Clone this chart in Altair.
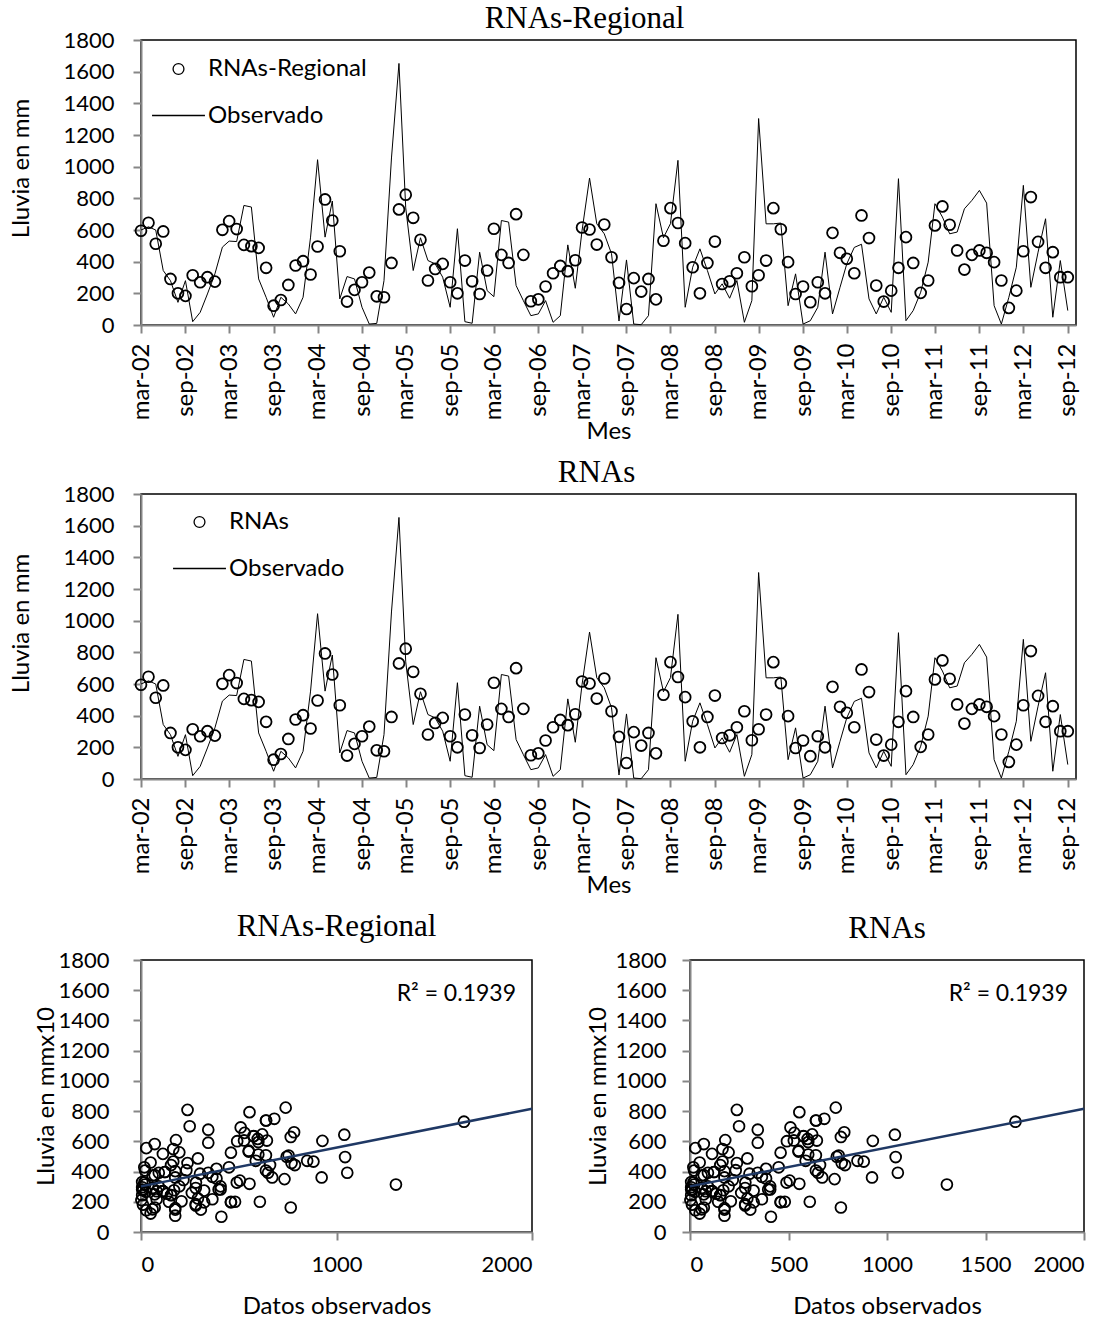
import altair as alt
import pandas as pd

# ---------------- data ----------------
meses = pd.date_range("2002-03-01", periods=127, freq="MS")

observado = [
    600, 620, 600, 344, 280, 143, 280, 21, 80, 196,
    323, 492, 530, 527, 755, 745, 291, 175, 49, 175,
    133, 70, 175, 555, 1044, 555, 783, 165, 306, 291,
    112, 6, 10, 280, 1055, 1652, 740, 344, 551, 407,
    386, 302, 112, 608, 21, 11, 460, 217, 179, 660,
    650, 249, 154, 59, 70, 154, 17, 59, 506, 232,
    597, 928, 639, 576, 450, 25, 411, 6, 2, 59,
    766, 551, 640, 1040, 112, 365, 481, 344, 196, 260,
    169, 281, 17, 154, 1304, 639, 639, 644, 122, 323,
    6, 27, 112, 460, 70, 238, 386, 490, 510, 165,
    70, 175, 80, 924, 27, 91, 207, 397, 766, 682,
    576, 587, 734, 787, 850, 770, 122, 6, 175, 365,
    882, 238, 460, 671, 49, 407, 91,
]

rnas_regional = [
    595, 646, 513, 591, 291, 200, 184, 314, 270, 302,
    274, 601, 656, 606, 506, 498, 487, 361, 122, 158,
    253, 376, 403, 319, 496, 793, 660, 466, 148, 222,
    270, 331, 181, 175, 392, 730, 823, 677, 538, 281,
    354, 386, 270, 200, 407, 276, 196, 344, 608, 443,
    392, 700, 443, 150, 162, 243, 327, 373, 340, 409,
    616, 603, 508, 635, 428, 266, 101, 296, 211, 291,
    162, 532, 738, 644, 517, 365, 200, 392, 527, 259,
    276, 327, 428, 245, 314, 407, 738, 605, 397, 196,
    243, 144, 270, 200, 582, 456, 418, 327, 692, 549,
    249, 148, 217, 361, 555, 392, 203, 281, 629, 749,
    633, 471, 350, 443, 471, 456, 397, 281, 108, 217,
    466, 808, 525, 361, 460, 302, 302,
]
# the "RNAs" series is drawn with the same values in the reference
rnas = list(rnas_regional)

y_ticks = [0, 200, 400, 600, 800, 1000, 1200, 1400, 1600, 1800]
tick_fechas = pd.date_range("2002-03-01", "2012-09-01", freq="6MS")
x_ticks_scatter_1 = [0, 1000, 2000]
x_ticks_scatter_2 = [0, 500, 1000, 1500, 2000]
r2_texto = "R² = 0.1939"

# ---------------- styling ----------------
GRAY = "#868686"
FONT = "Lato"
SERIF = "Liberation Serif"

x_domain = [alt.DateTime(year=2002, month=3, date=1),
            alt.DateTime(year=2012, month=10, date=5)]
x_vals = [alt.DateTime(year=d.year, month=d.month, date=1) for d in tick_fechas]


def serie_panel(pred, nombre, title_dx, title_offset, legend_x, legend_y,
                ytitle_y):
    df = pd.DataFrame({"fecha": meses, "observado": observado,
                       "pred": pred, "serie": nombre})
    x_axis = alt.Axis(values=x_vals,
                      labelExpr="lower(timeFormat(datum.value, '%b-%y'))",
                      labelAngle=-90, labelPadding=10, labelFontSize=24,
                      title="Mes", titleY=113, titleBaseline="alphabetic")
    y_axis = alt.Axis(values=y_ticks, format="d", labelPadding=19,
                      title="Lluvia en mm", titleX=-120, titleY=ytitle_y,
                      titleAngle=-90, titleAlign="center",
                      titleBaseline="middle")
    xs = alt.Scale(domain=x_domain)
    ys = alt.Scale(domain=[0, 1800])
    line = alt.Chart(df).mark_line(color="black", strokeWidth=1).encode(
        x=alt.X("fecha:T", scale=xs, axis=x_axis),
        y=alt.Y("observado:Q", scale=ys, axis=y_axis),
    )
    leg = alt.Legend(orient="none", legendX=legend_x, legendY=legend_y,
                     title=None, labelFont=FONT, labelFontSize=24,
                     labelColor="black", labelOffset=2, symbolStrokeWidth=1.3,
                     symbolStrokeColor="black", rowPadding=7, padding=0)
    dom = [nombre, "Observado"]
    pts = alt.Chart(df).mark_point(filled=False, color="black",
                                   strokeWidth=1.8, opacity=1).encode(
        x=alt.X("fecha:T", scale=xs, axis=x_axis),
        y=alt.Y("pred:Q", scale=ys, axis=y_axis),
        shape=alt.Shape("serie:N",
                        scale=alt.Scale(domain=dom, range=["circle", "stroke"]),
                        legend=leg),
        size=alt.Size("serie:N",
                      scale=alt.Scale(domain=dom, range=[118, 2800]),
                      legend=leg),
    )
    return alt.layer(line, pts).properties(
        width=935, height=285,
        title=alt.TitleParams(nombre, font=SERIF, fontSize=31,
                              fontWeight="normal", color="black",
                              anchor="middle", frame="group", dx=title_dx,
                              offset=title_offset, baseline="alphabetic"),
    )


def dispersion(pred, titulo, x_ticks, width, ytitle_x, ylabel_pad,
               title_offset, r2_x):
    df = pd.DataFrame({"observado": observado, "pred": pred})
    x_axis = alt.Axis(values=x_ticks, format="d", labelPadding=14,
                      title="Datos observados", titleY=81,
                      titleBaseline="alphabetic")
    y_axis = alt.Axis(values=y_ticks, format="d", labelPadding=ylabel_pad,
                      title="Lluvia en mmx10", titleX=ytitle_x,
                      titleAngle=-90, titleAlign="center",
                      titleBaseline="middle")
    xs = alt.Scale(domain=[0, 2000])
    ys = alt.Scale(domain=[0, 1800])
    pts = alt.Chart(df).mark_point(filled=False, color="black", size=118,
                                   strokeWidth=1.8, opacity=1).encode(
        x=alt.X("observado:Q", scale=xs, axis=x_axis),
        y=alt.Y("pred:Q", scale=ys, axis=y_axis),
    )
    reg = alt.Chart(df).transform_regression(
        "observado", "pred", extent=[0, 2000]
    ).mark_line(color="#1F3864", strokeWidth=2.5).encode(
        x=alt.X("observado:Q", scale=xs, axis=x_axis),
        y=alt.Y("pred:Q", scale=ys, axis=y_axis),
    )
    r2 = alt.Chart(pd.DataFrame({"t": [r2_texto]})).mark_text(
        font=FONT, fontSize=23, align="right", baseline="middle",
        color="black").encode(
        text="t:N", x=alt.value(r2_x), y=alt.value(34))
    return alt.layer(pts, reg, r2).properties(
        width=width, height=272,
        title=alt.TitleParams(titulo, font=SERIF, fontSize=31,
                              fontWeight="normal", color="black",
                              anchor="middle", frame="group",
                              offset=title_offset, baseline="alphabetic"),
    )


p1 = serie_panel(rnas_regional, "RNAs-Regional", -24, -30, 10, 17, 128)
p2 = serie_panel(rnas, "RNAs", -12, -30, 31, 16, 129)
s1 = dispersion(rnas_regional, "RNAs-Regional", x_ticks_scatter_1, 391,
                -95, 24, -18, 375)
s2 = dispersion(rnas, "RNAs", x_ticks_scatter_2, 394, -92, 16, -20, 378)

top = alt.vconcat(p1, p2, spacing=169, bounds="flush").resolve_scale(
    shape="independent", size="independent"
).resolve_legend(shape="independent", size="independent")
bottom = alt.hconcat(s1, s2, spacing=158, bounds="flush")

chart = alt.vconcat(top, bottom, spacing=920, bounds="flush").resolve_scale(
    shape="independent", size="independent"
).properties(
    padding={"left": 8, "top": 2, "right": 5, "bottom": 5}
).configure_view(
    stroke="black", strokeWidth=1.5
).configure_axis(
    domainColor=GRAY, domainWidth=2, tickColor=GRAY, tickWidth=2,
    tickSize=8, grid=False, labelFont=FONT, labelFontSize=22,
    labelColor="black", titleFont=FONT, titleFontSize=24,
    titleFontWeight="normal", titleColor="black", zindex=1,
).configure_legend(
    symbolFillColor="transparent"
)

chart.save("out.html", embed_options={"renderer": "svg", "actions": False})
